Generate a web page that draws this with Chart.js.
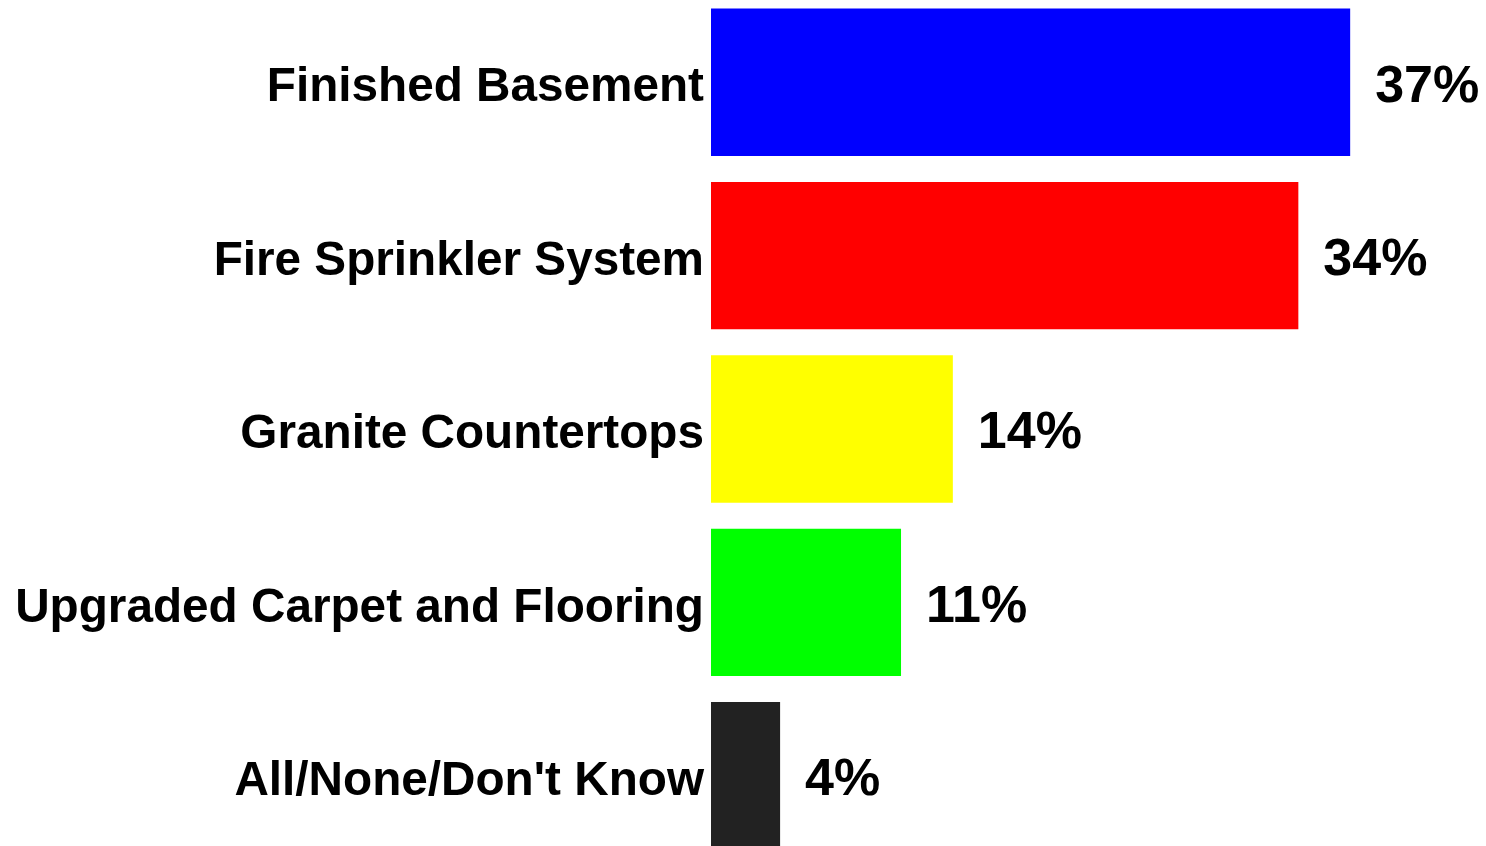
<!DOCTYPE html>
<html>
<head>
<meta charset="utf-8">
<script src="https://cdn.jsdelivr.net/npm/chart.js@4/dist/chart.umd.min.js"></script>
<style>
html,body{margin:0;padding:0;background:#fff;overflow:hidden;}
#wrap{position:relative;width:1486px;height:846px;overflow:hidden;}
#box{position:absolute;left:0;top:-40px;width:1486px;height:938px;}
</style>
</head>
<body>
<div id="wrap"><div id="box"><canvas id="c" width="1486" height="938"></canvas></div></div>
<script>
const categories = ["Finished Basement", "Fire Sprinkler System", "Granite Countertops", "Upgraded Carpet and Flooring", "All/None/Don't Know"];
const values = [37, 34, 14, 11, 4];
const valueLabels = ["37%", "34%", "14%", "11%", "4%"];
const barColors = ["#0000ff", "#ff0000", "#ffff00", "#00ff00", "#222222"];

const valuePlugin = {
  id: 'valueLabels',
  afterDatasetsDraw(chart) {
    const ctx = chart.ctx;
    const meta = chart.getDatasetMeta(0);
    ctx.save();
    ctx.font = 'bold 52px "Liberation Sans", Arial, sans-serif';
    ctx.fillStyle = '#000';
    ctx.textAlign = 'left';
    ctx.textBaseline = 'middle';
    meta.data.forEach((bar, i) => {
      ctx.fillText(valueLabels[i], bar.x + 25, bar.y + 5);
    });
    ctx.restore();
  }
};

new Chart(document.getElementById('c'), {
  type: 'bar',
  data: {
    labels: categories,
    datasets: [{
      data: values,
      backgroundColor: barColors,
      borderWidth: 0,
      barPercentage: 0.85,
      categoryPercentage: 1.0
    }]
  },
  options: {
    indexAxis: 'y',
    responsive: false,
    animation: false,
    layout: { padding: { left: 0, right: 84, top: 0, bottom: 0 } },
    plugins: { legend: { display: false }, tooltip: { enabled: false } },
    scales: {
      x: { display: false, min: 0, max: 40 },
      y: {
        grid: { display: false, drawTicks: false },
        border: { display: false },
        ticks: {
          color: '#000',
          padding: 7,
          labelOffset: 6,
          font: { family: '"Liberation Sans", Arial, sans-serif', size: 47.7, weight: 'bold' }
        },
        afterFit(scale) { scale.width = 711; }
      }
    }
  },
  plugins: [valuePlugin]
});
</script>
</body>
</html>
